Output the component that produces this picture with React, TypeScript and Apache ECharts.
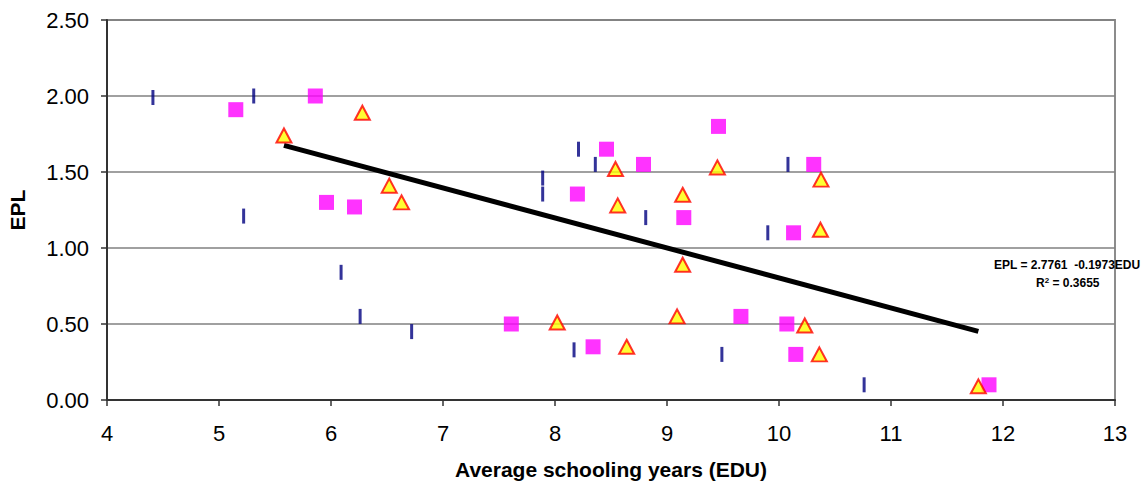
import React, { useEffect, useRef } from "react";
import * as echarts from "echarts";

// Blue dash series (EDU, EPL)
const dashX = [4.41, 5.31, 5.22, 6.09, 6.26, 6.72, 7.89, 7.89, 8.21, 8.36, 8.81, 9.90, 10.08, 8.17, 9.49, 10.76];
const dashY = [1.99, 2.0, 1.21, 0.84, 0.55, 0.45, 1.46, 1.355, 1.65, 1.55, 1.20, 1.10, 1.55, 0.33, 0.30, 0.10];

// Magenta square series
const sqX = [5.15, 5.86, 5.96, 6.21, 8.20, 8.46, 8.79, 9.15, 9.46, 10.31, 10.13, 7.61, 8.34, 9.66, 10.07, 10.15, 11.875];
const sqY = [1.91, 2.0, 1.30, 1.27, 1.355, 1.65, 1.55, 1.20, 1.80, 1.55, 1.10, 0.50, 0.35, 0.55, 0.50, 0.30, 0.10];

// Yellow triangle series
const triX = [5.58, 6.28, 6.52, 6.63, 8.54, 8.56, 9.14, 9.45, 10.375, 10.37, 9.14, 8.02, 9.09, 8.64, 10.23, 10.36, 11.78];
const triY = [1.74, 1.89, 1.41, 1.30, 1.52, 1.28, 1.35, 1.53, 1.45, 1.12, 0.89, 0.51, 0.55, 0.35, 0.49, 0.30, 0.09];

// Regression line
const intercept = 2.7761;
const slope = -0.1973;
const trendX = [5.58, 11.78];
const r2 = "0.3655";

const xTicks = [4, 5, 6, 7, 8, 9, 10, 11, 12, 13];
const yTicks = [0, 0.5, 1.0, 1.5, 2.0, 2.5];

const zip = (a: number[], b: number[]) => a.map((v, i) => [v, b[i]]);

export default function App() {
  const ref = useRef<HTMLDivElement>(null);
  useEffect(() => {
    if (!ref.current) return;
    const chart = echarts.init(ref.current, null, { renderer: "svg" });
    const font = "'Liberation Sans', Arial, sans-serif";
    chart.setOption({
      animation: false,
      textStyle: { fontFamily: font },
      grid: {
        left: 107,
        right: 33,
        top: 20,
        bottom: 91,
        containLabel: false,
        outerBoundsMode: "none",
        show: true,
        borderColor: "#8c8c8c",
        borderWidth: 2,
        backgroundColor: "transparent",
      },
      xAxis: {
        type: "value",
        min: xTicks[0],
        max: xTicks[xTicks.length - 1],
        interval: 1,
        name: "Average schooling years (EDU)",
        nameLocation: "middle",
        nameGap: 59,
        nameTextStyle: { fontSize: 21, fontWeight: "bold", color: "#000", fontFamily: font },
        axisLine: { show: true, onZero: false, lineStyle: { color: "#333", width: 2 } },
        axisTick: { show: true, inside: false, length: 6, lineStyle: { color: "#333", width: 1.5 } },
        axisLabel: { fontSize: 22, color: "#000", margin: 22, fontFamily: font },
        splitLine: { show: false },
      },
      yAxis: {
        type: "value",
        min: yTicks[0],
        max: yTicks[yTicks.length - 1],
        interval: 0.5,
        name: "EPL",
        nameLocation: "middle",
        nameGap: 79,
        nameRotate: 90,
        nameTextStyle: { fontSize: 21, fontWeight: "bold", color: "#000", fontFamily: font },
        axisLine: { show: true, onZero: false, lineStyle: { color: "#333", width: 2 } },
        axisTick: { show: true, inside: false, length: 6, lineStyle: { color: "#333", width: 1.5 } },
        axisLabel: {
          fontSize: 22,
          color: "#000",
          margin: 18,
          fontFamily: font,
          formatter: (v: number) => v.toFixed(2),
        },
        splitLine: { show: true, lineStyle: { color: "#808080", width: 1.5 } },
      },
      series: [
        {
          type: "line",
          data: trendX.map((x) => [x, intercept + slope * x]),
          symbol: "none",
          lineStyle: { color: "#000", width: 5 },
          z: 3,
        },
        {
          type: "scatter",
          data: zip(dashX, dashY),
          symbol: "rect",
          symbolSize: [3, 15],
          itemStyle: { color: "#000080" },
          z: 4,
        },
        {
          type: "scatter",
          data: zip(sqX, sqY),
          symbol: "rect",
          symbolSize: 15,
          itemStyle: { color: "#ff00ff" },
          z: 4,
        },
        {
          type: "scatter",
          data: zip(triX, triY),
          symbol: "triangle",
          symbolSize: [15, 14],
          itemStyle: { color: "#ffff00", borderColor: "#ff0000", borderWidth: 2 },
          z: 5,
        },
      ],
      graphic: [
        {
          type: "text",
          left: 994,
          top: 259,
          style: {
            text: `EPL = ${intercept}  ${slope}EDU`,
            font: `bold 12px ${font}`,
            fill: "#000",
          },
          z: 10,
        },
        {
          type: "text",
          left: 1036,
          top: 276,
          style: {
            text: `R{sup|2} = ${r2}`,
            font: `bold 12px ${font}`,
            fill: "#000",
            rich: {
              sup: { fontSize: 8, fontWeight: "bold", verticalAlign: "top", fontFamily: font, padding: [0, 0, 6, 0] },
            },
          },
          z: 10,
        },
      ],
    });
    return () => chart.dispose();
  }, []);
  return (
    <div
      ref={ref}
      style={{ position: "fixed", left: 0, top: 0, width: 1148, height: 491, background: "#fff" }}
    />
  );
}
